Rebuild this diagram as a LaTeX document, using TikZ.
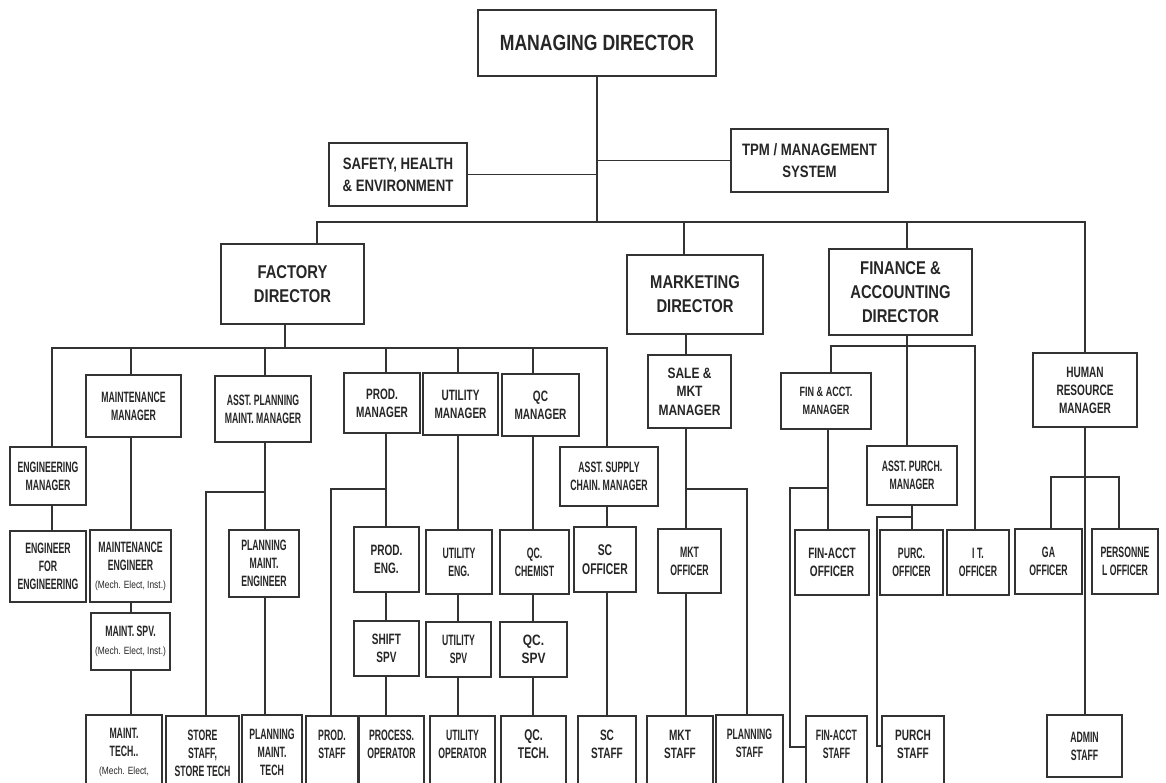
\documentclass[tikz,border=0pt]{standalone}
\usepackage{fontspec}
\setmainfont{Liberation Sans}
\newfontfamily\ftopf{Liberation Sans}[FakeStretch=0.80]
\newfontfamily\fmidf{Liberation Sans}[FakeStretch=0.67]
\newfontfamily\flowf{Liberation Sans}[FakeStretch=0.58]
\newcommand{\mechnote}[1]{{\ftopf\mdseries\fontsize{10.5}{12}\selectfont #1}}
\newcommand{\orgbox}[7][]{%
  \pgfmathsetmacro{\bxcx}{(#3+#5)/2}%
  \pgfmathsetmacro{\bxcy}{(#4+#6)/2}%
  \pgfmathsetmacro{\bxw}{#5-#3}%
  \pgfmathsetmacro{\bxh}{#6-#4}%
  \node[box,#1,minimum width=\bxw pt,minimum height=\bxh pt] (#2) at (\bxcx,\bxcy) {#7};%
}
\tikzset{
  box/.style={draw=black!80, line width=1.2pt, fill=white, inner sep=0pt, align=center, text=black!85},
  tmd/.style={font=\ftopf\bfseries\fontsize{22}{26}\selectfont},
  tdir/.style={font=\ftopf\bfseries\fontsize{18.5}{24}\selectfont},
  tsh/.style={font=\ftopf\bfseries\fontsize{16.5}{22}\selectfont},
  tlow/.style={font=\flowf\bfseries\fontsize{15}{18}\selectfont},
  tmid/.style={font=\fmidf\bfseries\fontsize{15}{18}\selectfont},
  tbig/.style={font=\ftopf\bfseries\fontsize{15}{18.5}\selectfont},
  conn/.style={draw=black!80, line width=1.2pt}
}
\begin{document}
\begin{tikzpicture}[x=1pt,y=-1pt]
\useasboundingbox (0,0) rectangle (1166,782);
\clip (0,0) rectangle (1166,782);
\fill[white] (0,0) rectangle (1166,782);

% ---- top level
\orgbox[tmd]{md}{478}{10}{716}{76}{MANAGING DIRECTOR}
\orgbox[tsh]{she}{329}{143}{467}{206}{SAFETY, HEALTH\\\& ENVIRONMENT}
\orgbox[tsh]{tpm}{731}{129}{888}{192}{TPM / MANAGEMENT\\SYSTEM}
\orgbox[tdir]{fd}{221}{244}{364}{324}{FACTORY\\DIRECTOR}
\orgbox[tdir]{mkd}{627}{255}{763}{334}{MARKETING\\DIRECTOR}
\orgbox[tdir]{fin}{829}{249}{972}{335}{FINANCE \&\\ACCOUNTING\\DIRECTOR}

% ---- managers
\orgbox[tlow]{engm}{10}{447}{86}{505}{ENGINEERING\\MANAGER}
\orgbox[tlow]{mntm}{86}{375}{181}{437}{MAINTENANCE\\MANAGER}
\orgbox[tlow]{apm}{215}{376}{311}{442}{ASST. PLANNING\\MAINT. MANAGER}
\orgbox[tmid]{prdm}{344}{373}{420}{433}{PROD.\\MANAGER}
\orgbox[tmid]{utm}{423}{373}{498}{435}{UTILITY\\MANAGER}
\orgbox[tmid]{qcm}{502}{374}{579}{436}{QC\\MANAGER}
\orgbox[tlow]{asc}{560}{447}{658}{506}{ASST. SUPPLY\\CHAIN. MANAGER}
\orgbox[tbig]{smm}{648}{355}{731}{428}{SALE \&\\MKT\\MANAGER}
\orgbox[font=\fmidf\bfseries\fontsize{13.5}{18}\selectfont]{fam}{781}{373}{871}{429}{FIN \& ACCT.\\MANAGER}
\orgbox[tlow]{apu}{867}{446}{957}{505}{ASST. PURCH.\\MANAGER}
\orgbox[tmid]{hr}{1033}{353}{1137}{427}{HUMAN\\RESOURCE\\MANAGER}

% ---- engineers / officers
\orgbox[tlow]{efe}{10}{531}{86}{602}{ENGINEER\\FOR\\ENGINEERING}
\orgbox[tlow]{mte}{90}{530}{171}{602}{MAINTENANCE\\ENGINEER\\\mechnote{(Mech. Elect, Inst.)}}
\orgbox[tlow]{pme}{229}{530}{299}{597}{PLANNING\\MAINT.\\ENGINEER}
\orgbox[tmid]{pre}{354}{527}{419}{592}{PROD.\\ENG.}
\orgbox[tlow]{ute}{426}{530}{492}{594}{UTILITY\\ENG.}
\orgbox[tlow]{qcc}{500}{530}{569}{594}{QC.\\CHEMIST}
\orgbox[font=\fmidf\bfseries\fontsize{15.5}{19}\selectfont]{sco}{574}{527}{636}{592}{SC\\OFFICER}
\orgbox[tlow]{mko}{658}{529}{721}{593}{MKT\\OFFICER}
\orgbox[tmid]{fao}{795}{530}{869}{595}{FIN-ACCT\\OFFICER}
\orgbox[tlow]{puo}{880}{530}{943}{595}{PURC.\\OFFICER}
\orgbox[tlow]{ito}{947}{530}{1009}{595}{I T.\\OFFICER}
\orgbox[tlow]{gao}{1015}{529}{1082}{594}{GA\\OFFICER}
\orgbox[tlow]{peo}{1092}{529}{1158}{594}{PERSONNE\\L OFFICER}

% ---- supervisors
\orgbox[tlow]{msp}{91}{613}{170}{670}{MAINT. SPV.\\\mechnote{(Mech. Elect, Inst.)}}
\orgbox[tmid]{ssp}{354}{621}{419}{676}{SHIFT\\SPV}
\orgbox[tlow]{usp}{426}{622}{491}{677}{UTILITY\\SPV}
\orgbox[tbig]{qsp}{500}{622}{567}{677}{QC.\\SPV}

% ---- staff row
\orgbox[tlow]{mtt}{86}{715}{162}{790}{MAINT.\\TECH..\\\mechnote{(Mech. Elect,}}
\orgbox[tlow]{sst}{166}{716}{239}{790}{STORE\\STAFF,\\STORE TECH}
\orgbox[tlow]{pmt}{242}{715}{302}{790}{PLANNING\\MAINT.\\TECH}
\orgbox[tlow]{pst}{306}{716}{358}{790}{PROD.\\STAFF\\\mbox{}}
\orgbox[tlow]{pop}{359}{716}{424}{790}{PROCESS.\\OPERATOR\\\mbox{}}
\orgbox[tlow]{uop}{430}{716}{495}{790}{UTILITY\\OPERATOR\\\mbox{}}
\orgbox[font=\fmidf\bfseries\fontsize{15.5}{18}\selectfont]{qct}{501}{716}{566}{790}{QC.\\TECH.\\\mbox{}}
\orgbox[tmid]{scs}{578}{716}{636}{790}{SC\\STAFF\\\mbox{}}
\orgbox[tmid]{mks}{647}{716}{713}{790}{MKT\\STAFF\\\mbox{}}
\orgbox[tlow]{pls}{716}{715}{783}{790}{PLANNING\\STAFF\\\mbox{}}
\orgbox[tlow]{fas}{806}{716}{867}{790}{FIN-ACCT\\STAFF\\\mbox{}}
\orgbox[tmid]{pus}{882}{716}{944}{790}{PURCH\\STAFF\\\mbox{}}
\orgbox[tlow]{ads}{1047}{715}{1122}{777}{ADMIN\\STAFF}

% ---- top connectors
\coordinate (busM) at (597,222);
\coordinate (bL) at (317,222);
\coordinate (bR) at (1085,222);
\coordinate (bMk) at (684,222);
\coordinate (bFi) at (907,222);
\draw[conn] (md.south) -- (busM);
\draw[conn] (she.east) -- (she.east -| busM);
\draw[conn] (tpm.west) -- (tpm.west -| busM);
\draw[conn] (bL |- fd.north) -- (bL) -- (bR) -- (bR |- hr.north);
\draw[conn] (bMk) -- (bMk |- mkd.north);
\draw[conn] (bFi) -- (bFi |- fin.north);

% ---- factory
\coordinate (fL) at (52,348);
\coordinate (fR) at (607,348);
\coordinate (fB) at (285,348);
\draw[conn] (fB |- fd.south) -- (fB);
\draw[conn] (engm.north -| fL) -- (fL) -- (fR) -- (fR |- asc.north);
\draw[conn] (fL |- engm.south) -- (fL |- efe.north);

\coordinate (cM) at (131,348);
\draw[conn] (cM) -- (cM |- mntm.north);
\draw[conn] (cM |- mntm.south) -- (cM |- mte.north);
\draw[conn] (cM |- mte.south) -- (cM |- msp.north);
\draw[conn] (cM |- msp.south) -- (cM |- mtt.north);

\coordinate (cA) at (265,348);
\coordinate (aBr) at (206,492);
\draw[conn] (cA) -- (cA |- apm.north);
\draw[conn] (cA |- apm.south) -- (cA |- pme.north);
\draw[conn] (cA |- aBr) -- (aBr) -- (aBr |- sst.north);
\draw[conn] (cA |- pme.south) -- (cA |- pmt.north);

\coordinate (cP) at (386,348);
\coordinate (pBr) at (331,489);
\draw[conn] (cP) -- (cP |- prdm.north);
\draw[conn] (cP |- prdm.south) -- (cP |- pre.north);
\draw[conn] (cP |- pBr) -- (pBr) -- (pBr |- pst.north);
\draw[conn] (cP |- pre.south) -- (cP |- ssp.north);
\draw[conn] (cP |- ssp.south) -- (cP |- pop.north);

\coordinate (cU) at (458,348);
\draw[conn] (cU) -- (cU |- utm.north);
\draw[conn] (cU |- utm.south) -- (cU |- ute.north);
\draw[conn] (cU |- ute.south) -- (cU |- usp.north);
\draw[conn] (cU |- usp.south) -- (cU |- uop.north);

\coordinate (cQc) at (533,348);
\draw[conn] (cQc) -- (cQc |- qcm.north);
\draw[conn] (cQc |- qcm.south) -- (cQc |- qcc.north);
\draw[conn] (cQc |- qcc.south) -- (cQc |- qsp.north);
\draw[conn] (cQc |- qsp.south) -- (cQc |- qct.north);

\draw[conn] (fR |- asc.south) -- (fR |- sco.north);
\draw[conn] (fR |- sco.south) -- (fR |- scs.north);

% ---- marketing
\coordinate (cK) at (686,334);
\coordinate (kBr) at (747,489);
\draw[conn] (cK |- mkd.south) -- (cK |- smm.north);
\draw[conn] (cK |- smm.south) -- (cK |- mko.north);
\draw[conn] (cK |- kBr) -- (kBr) -- (kBr |- pls.north);
\draw[conn] (cK |- mko.south) -- (cK |- mks.north);

% ---- finance
\coordinate (fiL) at (831,346);
\coordinate (fiR) at (975,346);
\coordinate (fiM) at (907,346);
\draw[conn] (fiM |- fin.south) -- (fiM);
\draw[conn] (fiL |- fam.north) -- (fiL) -- (fiR) -- (fiR |- ito.north);
\draw[conn] (fiM) -- (fiM |- apu.north);
\coordinate (cF) at (828,429);
\coordinate (faB) at (790,488);
\coordinate (faT) at (790,747);
\draw[conn] (cF |- fam.south) -- (cF |- fao.north);
\draw[conn] (cF |- faB) -- (faB) -- (faT) -- (faT -| fas.west);
\coordinate (cQ) at (912,505);
\coordinate (puB) at (877,517);
\coordinate (puT) at (877,746);
\draw[conn] (cQ |- apu.south) -- (cQ |- puo.north);
\draw[conn] (cQ |- puB) -- (puB) -- (puT) -- (puT -| pus.west);

% ---- human resource
\coordinate (cH) at (1085,427);
\coordinate (hL) at (1051,477);
\coordinate (hR) at (1119,477);
\draw[conn] (cH |- hr.south) -- (cH |- ads.north);
\draw[conn] (hL |- gao.north) -- (hL) -- (hR) -- (hR |- peo.north);
\end{tikzpicture}
\end{document}
